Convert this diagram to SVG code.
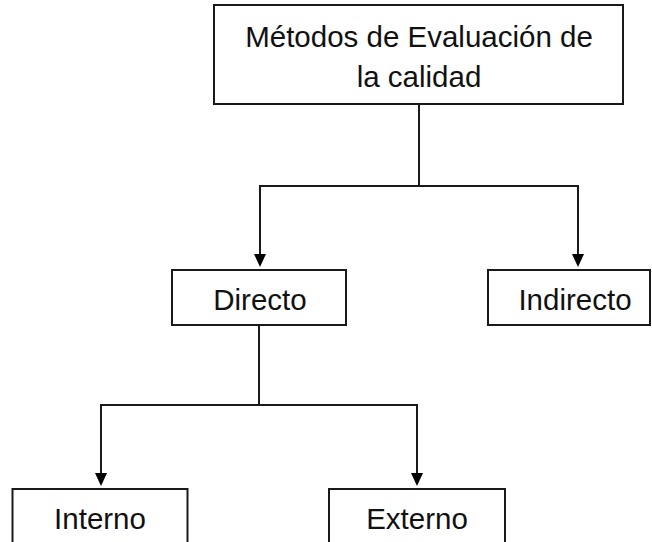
<svg xmlns="http://www.w3.org/2000/svg" width="652" height="542" viewBox="0 0 652 542">
<defs>
<style>
.box{fill:#fff;stroke:#1a1a1a;stroke-width:2}
.lbl{font-family:"Liberation Sans",Arial,sans-serif;font-size:29.5px;fill:#111;text-anchor:middle}
.conn line{stroke:#1a1a1a;stroke-width:2}
.conn polygon{fill:#000}
</style>
</defs>
<rect width="652" height="542" fill="#fff"/>
<g id="connectors" class="conn">
<line x1="419" y1="104" x2="419" y2="186"/>
<line x1="259" y1="186" x2="579" y2="186"/>
<line x1="260" y1="186" x2="260" y2="256"/>
<polygon points="254,254 266,254 260,267"/>
<line x1="578" y1="186" x2="578" y2="256"/>
<polygon points="572,254 584,254 578,267"/>
<line x1="259" y1="325" x2="259" y2="405"/>
<line x1="100" y1="405" x2="418" y2="405"/>
<line x1="101" y1="405" x2="101" y2="475"/>
<polygon points="95,473 107,473 101,486"/>
<line x1="417" y1="405" x2="417" y2="475"/>
<polygon points="411,473 423,473 417,486"/>
</g>
<g id="node-metodos">
<rect class="box" x="214" y="5" width="409" height="99"/>
<text class="lbl" x="419" y="46.5">Métodos de Evaluación de</text>
<text class="lbl" x="419" y="86.5">la calidad</text>
</g>
<g id="node-directo">
<rect class="box" x="172" y="270" width="174" height="55"/>
<text class="lbl" x="260" y="310">Directo</text>
</g>
<g id="node-indirecto">
<rect class="box" x="488" y="270" width="162" height="55"/>
<text class="lbl" x="575" y="310">Indirecto</text>
</g>
<g id="node-interno">
<rect class="box" x="12.5" y="489" width="175" height="70"/>
<text class="lbl" x="100" y="529">Interno</text>
</g>
<g id="node-externo">
<rect class="box" x="329" y="489" width="176" height="70"/>
<text class="lbl" x="417" y="529">Externo</text>
</g>
</svg>
